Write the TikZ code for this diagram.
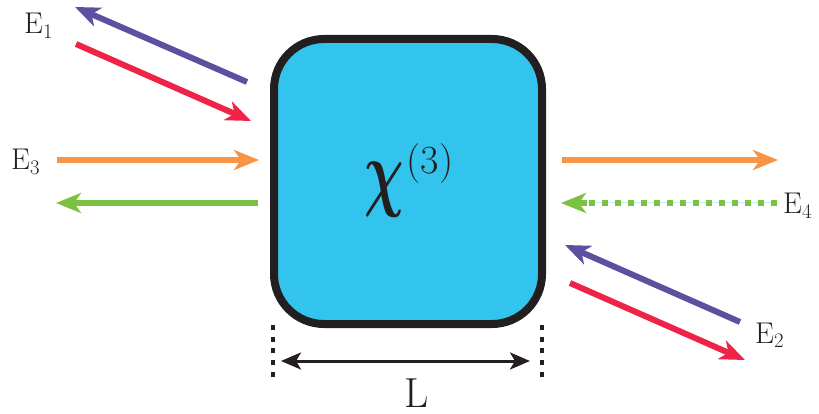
\documentclass[tikz,border=0pt]{standalone}
\usetikzlibrary{arrows.meta}
\definecolor{cpurple}{HTML}{5F4FA0}
\definecolor{cred}{HTML}{EE2347}
\definecolor{corange}{HTML}{F79446}
\definecolor{cgreen}{HTML}{7CC242}
\definecolor{ccyan}{HTML}{33C4EE}
\definecolor{cborder}{HTML}{231F20}
\definecolor{cthin}{HTML}{CDEBF2}
\begin{document}
\begin{tikzpicture}[x=1pt,y=-1pt,
  beam/.style={line width=6pt, -{Stealth[length=25pt,width=20pt,inset=7pt]}},
  lbl/.style={font=\fontsize{30}{32}\selectfont, inner sep=0pt, anchor=base west, text=cborder},
  sidedot/.style={line width=4pt, dash pattern=on 5pt off 6.7pt, cborder}]
\useasboundingbox (0,0) rectangle (819,414);
% crystal
\node[draw=cborder, line width=8pt, fill=ccyan, rounded corners=50pt,
      minimum width=268pt, minimum height=285pt, inner sep=0pt] (box) at (408,181.5) {};
\node[anchor=base west, inner sep=0pt, text=cborder] (chi) at (364,200.5)
  {\scalebox{5.5}[8.6]{\fontsize{10}{10}\selectfont\boldmath$\chi$}\hspace{3pt}\raisebox{27.5pt}{\fontsize{40}{40}\selectfont(3)}};
% coordinates
\coordinate (p1a) at (247,82);  \coordinate (p1b) at (75,7);
\coordinate (r1a) at (76,44);   \coordinate (r1b) at (251,121);
\coordinate (o1a) at (57,160);  \coordinate (o1b) at (259,160);
\coordinate (g1a) at (258,203); \coordinate (g1b) at (56,203);
\coordinate (o2a) at (562,160); \coordinate (o2b) at (778,160);
\coordinate (g2a) at (777,203); \coordinate (g2b) at (561,203);
\coordinate (p2a) at (740,322); \coordinate (p2b) at (565,245);
\coordinate (r2a) at (570,283); \coordinate (r2b) at (745,360);
\coordinate (dl1) at (273,325); \coordinate (dl2) at (273,383);
\coordinate (dr1) at (542,325); \coordinate (dr2) at (542,383);
\coordinate (la) at (281,361);  \coordinate (lb) at (530,361);
% beams
\draw[beam, cpurple] (p1a) -- (p1b);
\draw[beam, cred] (r1a) -- (r1b);
\draw[beam, corange] (o1a) -- (o1b);
\draw[beam, cgreen] (g1a) -- (g1b);
\draw[beam, corange] (o2a) -- (o2b);
\draw[line width=1pt, cthin] (g2a) -- (585,203);
\draw[line width=6pt, cgreen, dash pattern=on 6pt off 7pt] (g2a) -- (583,203);
\draw[line width=6pt, cgreen, -{Stealth[length=25pt,width=20pt,inset=7pt]}] (587,203) -- (g2b);
\draw[beam, cpurple] (p2a) -- (p2b);
\draw[beam, cred] (r2a) -- (r2b);
% length marker
\draw[sidedot] (dl1) -- (dl2);
\draw[sidedot] (dr1) -- (dr2);
\draw[line width=3pt, cborder, {Stealth[length=20pt,width=17pt,inset=5pt]}-{Stealth[length=20pt,width=17pt,inset=5pt]}] (la) -- (lb);
% labels
\node[lbl] (E1) at (24,34) {E$_1$};
\node[lbl] (E3) at (11,170) {E$_3$};
\node[lbl] (E4) at (783,214) {E$_4$};
\node[lbl] (E2) at (755,343) {E$_2$};
\node[lbl, font=\fontsize{42}{44}\selectfont] (L) at (404,407) {L};
\end{tikzpicture}
\end{document}
